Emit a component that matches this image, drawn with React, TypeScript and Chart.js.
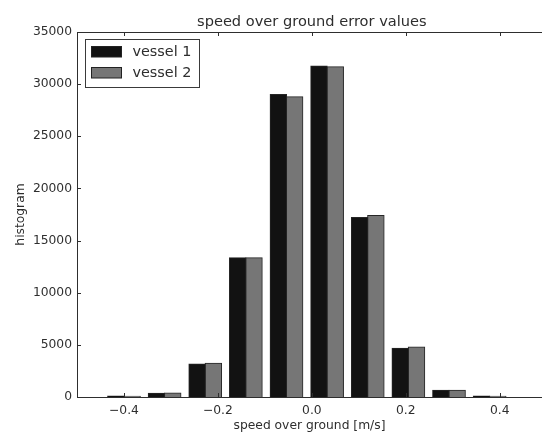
import React, { useEffect, useRef } from 'react';
import { Chart, registerables } from 'chart.js';

Chart.register(...registerables);

// ---- data ----
const binCenters = [-0.4, -0.3135, -0.227, -0.1405, -0.054, 0.0325, 0.119, 0.2055, 0.292, 0.3785];
const vessel1 = [90, 360, 3160, 13340, 28990, 31740, 17200, 4660, 630, 80];
const vessel2 = [70, 370, 3220, 13340, 28770, 31670, 17400, 4790, 630, 60];
const seriesLabels = ['vessel 1', 'vessel 2'];
const seriesColors = ['#121212', '#767676'];
const xTickValues = [-0.4, -0.2, 0, 0.2, 0.4];
const xTickLabels = ['\u22120.4', '\u22120.2', '0.0', '0.2', '0.4'];
const yTickValues = [0, 5000, 10000, 15000, 20000, 25000, 30000, 35000];
const yTickLabels = ['0', '5000', '10000', '15000', '20000', '25000', '30000', '35000'];
const titleText = 'speed over ground error values';
const xAxisLabel = 'speed over ground [m/s]';
const yAxisLabel = 'histogram';

const FONT = '"DejaVu Sans", sans-serif';
const INK = '#2e2e2e';

const mplPlugin = {
  id: 'mplDecor',
  afterDatasetsDraw(chart: any) {
    const { ctx, chartArea: a, scales } = chart;
    const x = scales.x;
    const y = scales.y;
    ctx.save();
    ctx.strokeStyle = INK;
    ctx.lineWidth = 1;
    ctx.beginPath();
    ctx.moveTo(a.left, a.top + 0.5);
    ctx.lineTo(a.right, a.top + 0.5);
    x.ticks.forEach((t: any) => {
      const px = Math.round(x.getPixelForValue(t.value)) + 0.5;
      ctx.moveTo(px, a.bottom);
      ctx.lineTo(px, a.bottom - 4);
      ctx.moveTo(px, a.top);
      ctx.lineTo(px, a.top + 4);
    });
    y.ticks.forEach((t: any) => {
      const py = Math.round(y.getPixelForValue(t.value)) + 0.5;
      ctx.moveTo(a.left, py);
      ctx.lineTo(a.left + 4, py);
    });
    ctx.stroke();
    ctx.restore();
  },
  afterDraw(chart: any) {
    const { ctx, chartArea: a, scales } = chart;
    const x = scales.x;
    ctx.save();
    // title, centred over the axes (centre of the -0.5..0.5 range)
    ctx.fillStyle = INK;
    ctx.font = `14.6px ${FONT}`;
    ctx.textAlign = 'center';
    ctx.textBaseline = 'alphabetic';
    ctx.fillText(titleText, x.getPixelForValue(0), 26);

    // legend box
    const bx = a.left + 8.5;
    const by = a.top + 7.5;
    const bw = 114;
    const bh = 48;
    ctx.fillStyle = '#ffffff';
    ctx.fillRect(bx, by, bw, bh);
    ctx.strokeStyle = '#3a3a3a';
    ctx.lineWidth = 1;
    ctx.strokeRect(bx, by, bw, bh);
    chart.data.datasets.forEach((ds: any, i: number) => {
      const sy = by + 7 + i * 21;
      ctx.fillStyle = ds.backgroundColor;
      ctx.fillRect(bx + 6, sy, 30, 10.5);
      ctx.strokeStyle = '#222';
      ctx.strokeRect(bx + 6, sy, 30, 10.5);
      ctx.fillStyle = INK;
      ctx.font = `14.4px ${FONT}`;
      ctx.textAlign = 'left';
      ctx.textBaseline = 'middle';
      ctx.fillText(ds.label, bx + 47, sy + 5.5);
    });
    ctx.restore();
  },
};

export default function App() {
  const canvasRef = useRef<HTMLCanvasElement | null>(null);

  useEffect(() => {
    const canvas = canvasRef.current;
    if (!canvas) return;
    const chart = new Chart(canvas, {
      type: 'bar',
      data: {
        datasets: [vessel1, vessel2].map((vals, k) => ({
          label: seriesLabels[k],
          data: binCenters.map((c, i) => ({ x: c, y: vals[i] })),
          backgroundColor: seriesColors[k],
          borderColor: '#262626',
          borderWidth: 1,
          inflateAmount: 0.6,
          categoryPercentage: 0.8,
          barPercentage: 1.0,
        })),
      },
      options: {
        responsive: false,
        animation: false,
        devicePixelRatio: 1,
        layout: { padding: { top: 32, left: 0, right: 0, bottom: 0 } },
        plugins: {
          legend: { display: false },
          title: { display: false },
          tooltip: { enabled: false },
        },
        scales: {
          x: {
            type: 'linear',
            min: -0.5,
            max: 0.49,
            offset: false,
            grid: { display: false, offset: false, drawTicks: false, tickLength: 0 },
            border: { display: true, color: INK, width: 1 },
            afterBuildTicks: (s: any) => {
              s.ticks = xTickValues.map((v) => ({ value: v }));
            },
            afterFit: (s: any) => {
              s.height = 36;
            },
            ticks: {
              autoSkip: false,
              maxRotation: 0,
              padding: 6,
              color: INK,
              font: { family: FONT, size: 12.3 },
              callback: (_v: any, i: number) => xTickLabels[i],
            },
            title: {
              display: true,
              text: xAxisLabel,
              color: INK,
              font: { family: FONT, size: 12.3 },
              padding: { top: 0, bottom: 0 },
            },
          },
          y: {
            type: 'linear',
            min: 0,
            max: 35000,
            grid: { display: false, drawTicks: false, tickLength: 0 },
            border: { display: true, color: INK, width: 1 },
            afterBuildTicks: (s: any) => {
              s.ticks = yTickValues.map((v) => ({ value: v }));
            },
            afterFit: (s: any) => {
              s.width = 77;
            },
            ticks: {
              autoSkip: false,
              padding: 5,
              color: INK,
              font: { family: FONT, size: 12.3 },
              callback: (_v: any, i: number) => yTickLabels[i],
            },
            title: {
              display: true,
              text: yAxisLabel,
              color: INK,
              font: { family: FONT, size: 12.3 },
              padding: { top: 13, bottom: 0 },
            },
          },
        },
      },
      plugins: [mplPlugin],
    } as any);
    return () => chart.destroy();
  }, []);

  return (
    <div style={{ position: 'fixed', left: 0, top: 0, width: 542, height: 433, background: '#fff' }}>
      <canvas ref={canvasRef} width={542} height={433} style={{ width: 542, height: 433, display: 'block' }} />
    </div>
  );
}
